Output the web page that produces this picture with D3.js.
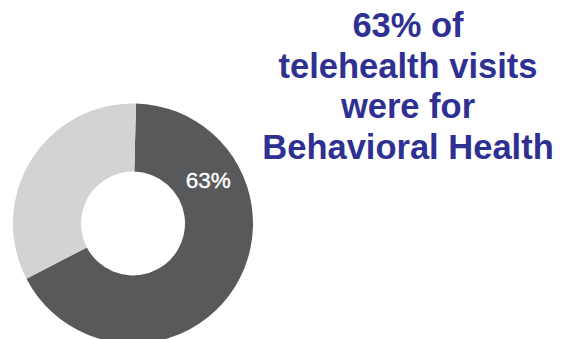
<!DOCTYPE html>
<html>
<head>
<meta charset="utf-8">
<script src="https://cdn.jsdelivr.net/npm/d3@7"></script>
<style>
body { margin: 0; background: #fff; }
</style>
</head>
<body>
<div id="chart-area"></div>
<script>
// slice shares as drawn in the picture (dark = behavioral health)
var categories = ["Behavioral Health", "Other"];
var shares = [67, 33];
var labels = ["63%", ""];
var titleLines = ["63% of", "telehealth visits", "were for", "Behavioral Health"];

var width = 571;
var height = 339;

var svg = d3.select("#chart-area").append("svg")
.attr("width", width)
.attr("height", height)

var g = svg.append("g")
.attr("transform", "translate(133, 223.5)")

var color = d3.scaleOrdinal()
.domain(categories)
.range(["#58595b", "#d1d3d4"])

var pie = d3.pie()
.sort(null)
.startAngle(0.025)
.endAngle(0.025 + 2 * Math.PI)

var arc = d3.arc()
.innerRadius(52)
.outerRadius(120)

var arcs = pie(shares)

g.selectAll("path").data(arcs)
.enter().append("path")
.attr("d", arc)
.attr("fill", (d, i) => color(categories[i]))

// percentage label
g.selectAll("text.pct").data(arcs)
.enter().append("text")
.attr("class", "pct")
.attr("x", d => 86 * Math.sin(d.startAngle + (d.endAngle - d.startAngle) * 0.25) - 0.5)
.attr("y", d => -86 * Math.cos(d.startAngle + (d.endAngle - d.startAngle) * 0.25) + 5)
.attr("text-anchor", "middle")
.attr("font-family", "Liberation Sans, Arial, sans-serif")
.attr("font-size", "22.5px")
.style("fill", "#ffffff")
.style("stroke", "#ffffff")
.style("stroke-width", 0.4)
.text((d, i) => labels[i])

// Title
svg.selectAll("text.title").data(titleLines)
.enter().append("text")
.attr("class", "title")
.attr("x", 408)
.attr("y", (d, i) => 37 + i * 40.5)
.attr("text-anchor", "middle")
.attr("font-family", "Liberation Sans, Arial, sans-serif")
.attr("font-weight", "bold")
.attr("font-size", "34.5px")
.style("fill", "#2e3192")
.text(d => d)
</script>
</body>
</html>
